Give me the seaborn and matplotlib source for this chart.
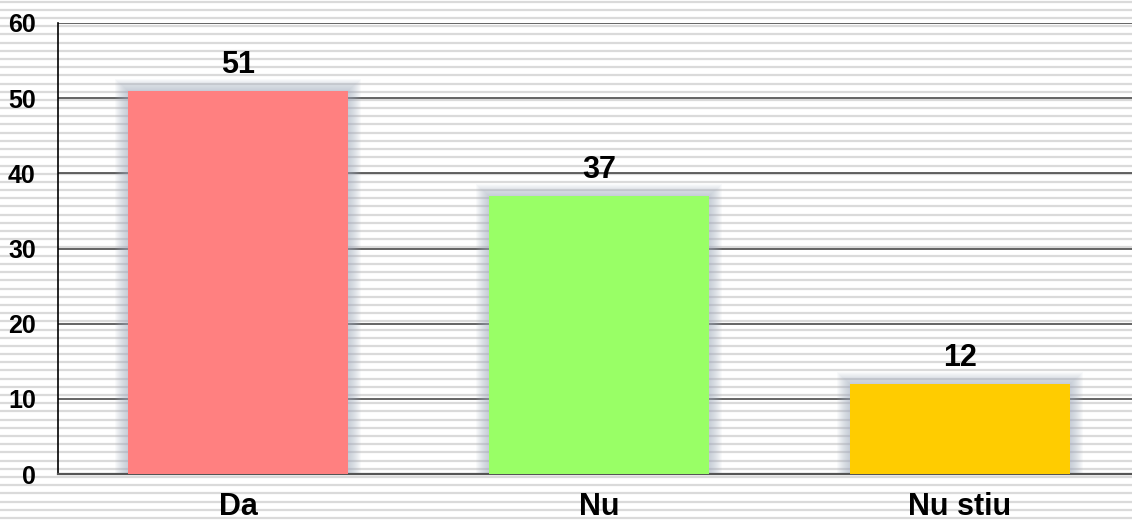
import numpy as np
import pandas as pd
import matplotlib.pyplot as plt
import seaborn as sns

#%% data
categories = ['Da', 'Nu', 'Nu stiu']
values = [51, 37, 12]
bar_colors = ['#ff8080', '#99ff66', '#ffcc00']

df = pd.DataFrame({'answer': categories, 'count': values})

#%% style
sns.set_theme(style='white')
plt.rcParams['font.family'] = ['Liberation Sans', 'DejaVu Sans']

fig = plt.figure(figsize=(11.32, 5.22), dpi=100)

# striped background over the whole figure
bg = fig.add_axes([0, 0, 1, 1], zorder=-10)
bg.set_xlim(0, 1132)
bg.set_ylim(522, 0)
for y in np.arange(1.5, 522, 8.2):
    bg.axhline(y, color='#dadada', lw=1.6)
bg.axis('off')

ax = fig.add_axes([58 / 1132, 48 / 522, 1082 / 1132, 451 / 522])
ax.patch.set_alpha(0)

# soft glow behind the bars
px_x = 1 / 360
px_y = 60 / 451
for k in range(13, 0, -1):
    ax.bar(range(len(values)), [v + k * px_y * 0.9 for v in values],
           width=0.61 + 2 * k * px_x, color='#a3aebf', alpha=0.06, lw=0, zorder=1)

sns.barplot(data=df, x='answer', y='count', hue='answer', palette=bar_colors,
            width=0.61, legend=False, saturation=1, ax=ax, zorder=3)
for p in ax.patches[-len(values):]:
    p.set_edgecolor('none')

for i, v in enumerate(values):
    ax.annotate(str(v), (i, v), xytext=(0, 13), textcoords='offset points',
                ha='center', va='baseline', fontsize=22, fontweight='bold', color='black')

ax.set_xlim(-0.5, 2.5)
ax.set_ylim(0, 60)
ax.set_yticks(range(0, 61, 10))
ax.yaxis.grid(True, color='#3a3a3a', lw=1.1)
ax.set_axisbelow(True)
for s in ['top', 'right']:
    ax.spines[s].set_visible(False)
ax.spines['left'].set_color('black')
ax.spines['left'].set_linewidth(1.2)
ax.spines['bottom'].set_color('#555555')
ax.spines['bottom'].set_linewidth(1.6)

ax.set_xticks(range(len(categories)))
ax.set_xticklabels(categories)
ax.set_xticks([-0.5, 0.5, 1.5, 2.5], minor=True)
ax.tick_params(axis='x', which='major', length=0, pad=13, labelsize=22)
ax.tick_params(axis='x', which='minor', length=7, width=1.5, color='#555555', direction='out')
ax.tick_params(axis='y', length=6, width=1.1, color='#3a3a3a', direction='out', pad=10, labelsize=18)
for lbl in ax.get_xticklabels() + ax.get_yticklabels():
    lbl.set_fontweight('bold')
    lbl.set_color('black')
ax.set_xlabel('')
ax.set_ylabel('')

fig.savefig('out.png', dpi=100)
